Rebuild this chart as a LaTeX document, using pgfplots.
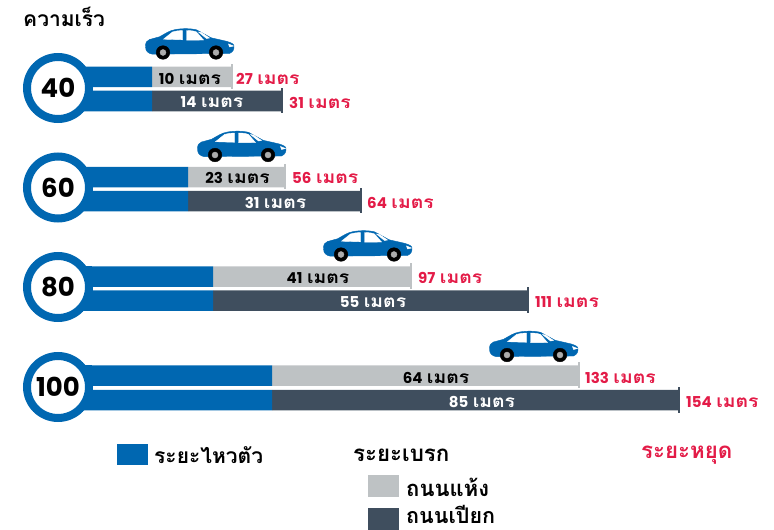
\documentclass[border=0pt]{standalone}
\usepackage{pgfplots}
\pgfplotsset{compat=1.18}
\usepackage{fontspec}
\setmainfont{Poppins}
\newfontfamily\thaifont[Script=Thai]{Loma}
\newfontfamily\thaiw[Script=Thai,Scale=1.15,FakeStretch=1.12]{Loma}
\definecolor{cblue}{HTML}{0067B1}
\definecolor{cdry}{HTML}{BEC2C4}
\definecolor{cwet}{HTML}{3F4E5E}
\definecolor{cred}{HTML}{E31B47}
\newcommand{\mt}[1]{\bfseries #1\hspace{0.3em}{\thaiw\bfseries เมตร}}
\pgfdeclareplotmark{car}{%
  \fill[cblue] (-44pt,5.7pt) .. controls (-44pt,10pt) and (-43pt,12pt) .. (-40pt,13pt) -- (-30pt,15.7pt)
    .. controls (-24pt,19pt) and (-20pt,22pt) .. (-14pt,23pt) .. controls (-6pt,24.3pt) and (2pt,24pt) .. (7pt,22.7pt)
    -- (21.7pt,14.7pt) -- (36.7pt,11.3pt) .. controls (41pt,10pt) and (44pt,9pt) .. (44.5pt,6.7pt)
    .. controls (44.5pt,3pt) and (44pt,1pt) .. (40pt,-1pt) -- (-37pt,-1.7pt) .. controls (-41pt,-1pt) and (-44pt,1pt) .. (-44pt,5.7pt) -- cycle;
  \fill[white] (-26pt,13.3pt) -- (-17pt,20.5pt) .. controls (-13pt,21.6pt) and (-10pt,22pt) .. (-7pt,22pt) -- (-7pt,12.7pt) -- cycle;
  \fill[white] (-3pt,22pt) .. controls (1pt,22pt) and (5pt,21.5pt) .. (7pt,20.5pt) -- (14pt,12.5pt) -- (-3pt,12.3pt) -- cycle;
  \fill[white] (9pt,20.5pt) -- (12pt,20pt) -- (20pt,14.5pt) -- (17pt,14pt) -- cycle;
  \fill[white] (39pt,8.5pt) -- (44pt,6.5pt) -- (40pt,5.5pt) -- cycle;
  \fill[black] (-26.5pt,0pt) circle[radius=6.8pt];
  \fill[black] (26.5pt,0pt) circle[radius=6.8pt];
  \fill[gray!65] (-26.5pt,0pt) circle[radius=3pt];
  \fill[gray!65] (26.5pt,0pt) circle[radius=3pt];
}
\begin{document}
\begin{tikzpicture}
\useasboundingbox (0,0) rectangle (774pt,530pt);
\begin{axis}[
  at={(0,0)},anchor=south west,
  scale only axis, width=774pt, height=530pt,
  xmin=0,xmax=774,ymin=0,ymax=530,y dir=reverse,
  hide axis, clip=true,
  xbar stacked, bar width=20.5pt,
]
% offset behind the ring, reaction, braking (drawn lengths in px)
\addplot[draw=none,fill=none] coordinates {(57,77)(57,101)(57,177)(57,201)(57,276.5)(57,300.5)(57,375.5)(57,400)};
\addplot[draw=none,fill=cblue] coordinates {(95,77)(95,101)(131,177)(131,201)(156,276.5)(156,300.5)(215,375.5)(215,400)};
\addplot[draw=none,fill=cdry] coordinates {(80,77)(0,101)(97,177)(0,201)(198,276.5)(0,300.5)(307,375.5)(0,400)};
\addplot[draw=none,fill=cwet] coordinates {(0,77)(130,101)(0,177)(173,201)(0,276.5)(315,300.5)(0,375.5)(407,400)};
\end{axis}
\begin{axis}[
  at={(0,0)},anchor=south west,
  scale only axis, width=774pt, height=530pt,
  xmin=0,xmax=774,ymin=0,ymax=530,y dir=reverse,
  hide axis, clip=false,
]
% blue links between ring and the two bars
\addplot[draw=none,fill=cblue] coordinates {(75,67)(92,67)(92,111)(75,111)} --cycle;
\addplot[draw=none,fill=cblue] coordinates {(75,167)(92,167)(92,211)(75,211)} --cycle;
\addplot[draw=none,fill=cblue] coordinates {(75,266)(92,266)(92,311)(75,311)} --cycle;
\addplot[draw=none,fill=cblue] coordinates {(75,365)(92,365)(92,410)(75,410)} --cycle;
% end caps
\addplot[cdry,line width=2pt] coordinates {(232,64)(232,89)};
\addplot[cdry,line width=2pt] coordinates {(285,164)(285,189)};
\addplot[cdry,line width=2pt] coordinates {(411,263)(411,289)};
\addplot[cdry,line width=2pt] coordinates {(579,362)(579,388)};
\addplot[cwet,line width=2pt] coordinates {(282,88)(282,113)};
\addplot[cwet,line width=2pt] coordinates {(361,188)(361,213)};
\addplot[cwet,line width=2pt] coordinates {(528,287)(528,313)};
\addplot[cwet,line width=2pt] coordinates {(679,387)(679,413)};
% rings
\addplot[only marks,mark=*,mark size=31pt,mark options={draw=cblue,fill=white,line width=8pt}]
  coordinates {(58,88)(58,187.5)(58,287)(58,387)};
% cars
\addplot[only marks,mark=car] coordinates {(189.5,52.5)(241.5,155)(367.5,254.5)(533.5,355)};
% legend swatches
\addplot[draw=none,fill=cblue] coordinates {(117,444)(148,444)(148,465)(117,465)} --cycle;
\addplot[draw=none,fill=cdry] coordinates {(368,475)(399,475)(399,497)(368,497)} --cycle;
\addplot[draw=none,fill=cwet] coordinates {(368,508)(399,508)(399,530)(368,530)} --cycle;
\end{axis}
\begin{axis}[
  at={(0,0)},anchor=south west,
  scale only axis, width=774pt, height=530pt,
  xmin=0,xmax=774,ymin=0,ymax=530,y dir=reverse,
  hide axis, clip=false,
]
% ring labels
\foreach \x/\y/\t in {58/88/40,58/187.5/60,58/287/80,58/387/100}{
  \edef\tmp{\noexpand\node[font=\noexpand\fontsize{26}{26}\noexpand\selectfont\noexpand\bfseries,text=black] at (axis cs:\x,\y) {\t};}\tmp
}
% bar labels
\foreach \x/\y/\t in {190/78.5/10,237.5/178/23,318/278/41,436/377.5/64}{
  \edef\tmp{\noexpand\node[font=\noexpand\fontsize{15}{15}\noexpand\selectfont,text=black] at (axis cs:\x,\y) {\noexpand\mt{\t}};}\tmp
}
\foreach \x/\y/\t in {212/102.5/14,275.5/203/31,373/302/55,482/402/85}{
  \edef\tmp{\noexpand\node[font=\noexpand\fontsize{15}{15}\noexpand\selectfont,text=white] at (axis cs:\x,\y) {\noexpand\mt{\t}};}\tmp
}
\foreach \x/\y/\t in {236/78.5/27,292/178/56,418/278/97,585/377.5/133,289/102.5/31,367/203/64,535/302/111,686/402/154}{
  \edef\tmp{\noexpand\node[anchor=west,inner sep=0pt,font=\noexpand\fontsize{15}{15}\noexpand\selectfont,text=cred] at (axis cs:\x,\y) {\noexpand\mt{\t}};}\tmp
}
\node[anchor=west,inner sep=0pt,font=\fontsize{21}{21}\selectfont\thaifont\bfseries] at (axis cs:23,16.5) {ความเร็ว};
\node[anchor=west,inner sep=0pt,font=\fontsize{21}{21}\selectfont\thaifont\bfseries] at (axis cs:154,455.5) {ระยะไหวตัว};
\node[anchor=west,inner sep=0pt,font=\fontsize{22.3}{22.3}\selectfont\thaifont\bfseries] at (axis cs:353,455.5) {ระยะเบรก};
\node[anchor=west,inner sep=0pt,font=\fontsize{22.3}{22.3}\selectfont\thaifont\bfseries,text=cred] at (axis cs:641,455.5) {ระยะหยุด};
\node[anchor=west,inner sep=0pt,font=\fontsize{22}{22}\selectfont\thaifont\bfseries] at (axis cs:406,487) {ถนนแห้ง};
\node[anchor=west,inner sep=0pt,font=\fontsize{21.5}{21.5}\selectfont\thaifont\bfseries] at (axis cs:406,514.5) {ถนนเปียก};
\end{axis}
\end{tikzpicture}
\end{document}
